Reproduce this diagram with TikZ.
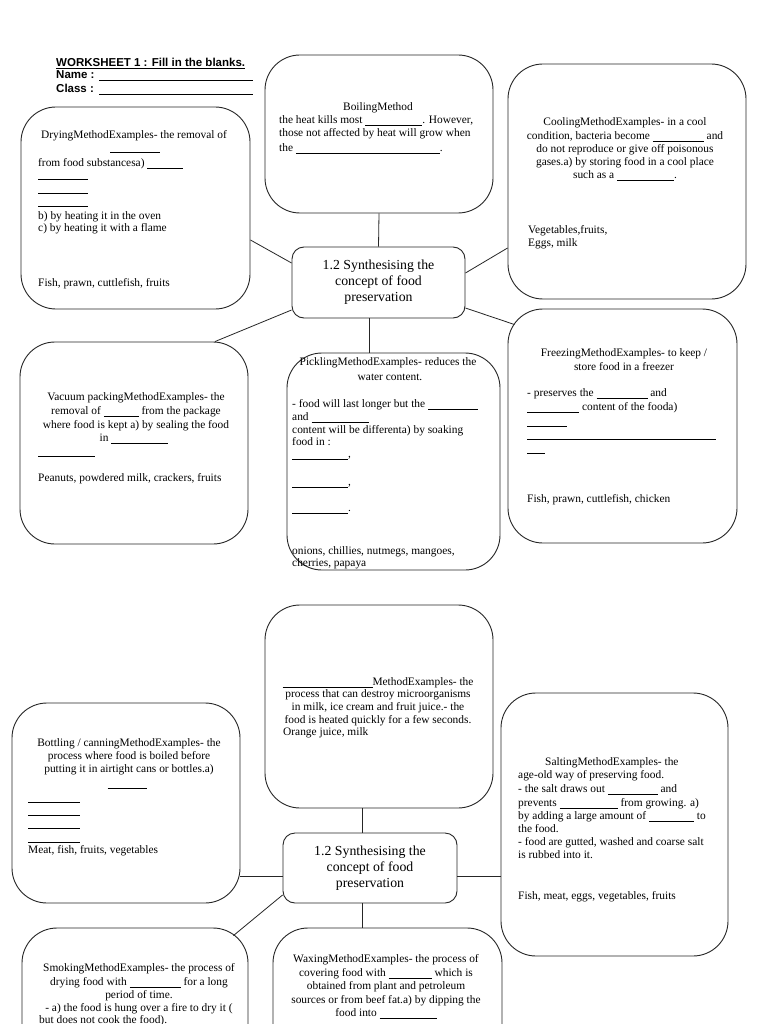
\documentclass[tikz,border=0pt]{standalone}
\usepackage{fontspec}
\setmainfont{Liberation Serif}
\newfontfamily\hdrfont{Liberation Sans}
\usetikzlibrary{calc}
\newcommand\Blank[1]{\rule[-1.6pt]{#1pt}{0.5pt}}
\newcommand\TL[4]{\node[txt,anchor=base west] (#1) at (#2,#3) {#4};}
\newcommand\TC[4]{\node[txt,anchor=base] (#1) at (#2,#3) {#4};}
\begin{document}
\begin{tikzpicture}[x=1pt,y=-1pt,
  box/.style={draw=black!85, line width=0.9pt, rounded corners=35pt, inner sep=0pt},
  cbox/.style={draw=black!85, line width=0.9pt, rounded corners=12pt, inner sep=0pt, align=center, font=\fontsize{13.8}{16}\selectfont},
  link/.style={draw=black!85, line width=0.8pt},
  txt/.style={inner sep=0pt, font=\fontsize{11.4}{12.65}\selectfont},
  hd/.style={inner sep=0pt, font=\hdrfont\bfseries\fontsize{11.5}{13}\selectfont}]
\useasboundingbox (0,0) rectangle (768,1024);
\fill[white] (0,0) rectangle (768,1024);
\clip (0,0) rectangle (768,1024);

% header
\node[hd, anchor=base west] (ws) at (56,66.6) {\underline{WORKSHEET 1 : Fill in the blanks.}};
\node[hd, anchor=base west] (nm) at (56,78.6) {\makebox[43pt][l]{Name :}\rule[-2.4pt]{154pt}{0.6pt}};
\node[hd, anchor=base west] (cl) at (56,92.6) {\makebox[43pt][l]{Class :}\rule[-2.4pt]{154pt}{0.6pt}};

% ---------- page 1 boxes
\node[box, minimum width=229pt, minimum height=202pt] (drying) at (135.5,208) {};
\node[box, minimum width=228pt, minimum height=158pt] (boiling) at (379,134) {};
\node[box, minimum width=238pt, minimum height=235pt] (cooling) at (627,181.5) {};
\node[box, minimum width=228pt, minimum height=202pt] (vacuum) at (134,443) {};
\node[box, minimum width=213pt, minimum height=217pt] (pickling) at (393.5,461.5) {};
\node[box, minimum width=229pt, minimum height=234pt] (freezing) at (622.5,426) {};
\node[cbox, minimum width=173pt, minimum height=71pt] (c1) at (378.5,282.5) {1.2 Synthesising the\\concept of food\\preservation};

\draw[link] (boiling.south) -- (c1.north);
\draw[link] ($(drying.east)+(0,32)$) -- ($(c1.west)+(0,-19.5)$);
\draw[link] ($(c1.east)+(0,-9.5)$) -- ($(cooling.west)+(0,66.5)$);
\draw[link] ($(c1.west)+(0,27.5)$) -- ($(vacuum.north)+(81,0)$);
\draw[link] ($(c1.south)+(-9.5,0)$) -- ($(pickling.north)+(-24.5,0)$);
\draw[link] ($(c1.east)+(0,25.5)$) -- ($(freezing.north west)+(7,16)$);

% drying text
\TC{d1}{134}{138.5}{DryingMethodExamples- the removal of}
\TC{d2}{135}{151.4}{\Blank{50}}
\TL{d3}{38}{166.5}{from food substancesa) \Blank{36}}
\TL{d4}{38}{178.4}{\Blank{50}}
\TL{d5}{38}{192.4}{\Blank{50}}
\TL{d6}{38}{205.4}{\Blank{50}}
\TL{d7}{38}{219.5}{b) by heating it in the oven}
\TL{d8}{38}{231.5}{c) by heating it with a flame}
\TL{d9}{38}{286.5}{Fish, prawn, cuttlefish, fruits}

% boiling text
\TC{b1}{378}{110.5}{BoilingMethod}
\TL{b2}{279}{123.5}{the heat kills most \Blank{57}. However,}
\TL{b3}{279}{137}{those not affected by heat will grow when}
\TL{b4}{279}{151.5}{the \Blank{144}.}

% cooling text
\TC{co1}{625}{125.5}{CoolingMethodExamples- in a cool}
\TC{co2}{625}{139.5}{condition, bacteria become \Blank{51} and}
\TC{co3}{625}{152.5}{do not reproduce or give off poisonous}
\TC{co4}{625}{165.5}{gases.a) by storing food in a cool place}
\TC{co5}{625}{178.5}{such as a \Blank{57}.}
\TL{co6}{528}{233.5}{Vegetables,fruits,}
\TL{co7}{528}{246.5}{Eggs, milk}

% vacuum text
\TC{v1}{136}{400.5}{Vacuum packingMethodExamples- the}
\TC{v2}{136}{414.5}{removal of \Blank{35} from the package}
\TC{v3}{136}{428.5}{where food is kept a) by sealing the food}
\TC{v4}{134}{441.5}{in \Blank{57}}
\TL{v5}{38}{454.4}{\Blank{57}}
\TL{v6}{38}{481.5}{Peanuts, powdered milk, crackers, fruits}

% pickling text
\TC{p1}{388}{365.5}{PicklingMethodExamples- reduces the}
\TC{p2}{390}{380.5}{water content.}
\TL{p3}{292}{407.5}{- food will last longer but the \Blank{50}}
\TL{p4}{292}{420.5}{and \Blank{57}}
\TL{p5}{292}{433.5}{content will be differenta) by soaking}
\TL{p6}{292}{445.5}{food in :}
\TL{p7}{292}{457.4}{\Blank{56},}
\TL{p8}{292}{485.4}{\Blank{56},}
\TL{p9}{292}{511.4}{\Blank{56}.}
\TL{p10}{292}{554.5}{onions, chillies, nutmegs, mangoes,}
\TL{p11}{292}{566.5}{cherries, papaya}

% freezing text
\TC{f1}{624}{356.5}{FreezingMethodExamples- to keep /}
\TC{f2}{624}{370.5}{store food in a freezer}
\TL{f3}{527}{396.5}{- preserves the \Blank{51} and}
\TL{f4}{527}{410.5}{\Blank{52} content of the fooda)}
\TL{f5}{527}{424.4}{\Blank{40}}
\TL{f6}{527}{437.4}{\Blank{189}}
\TL{f7}{527}{451.4}{\Blank{18}}
\TL{f8}{527}{502.5}{Fish, prawn, cuttlefish, chicken}

% ---------- page 2 boxes
\node[box, minimum width=228pt, minimum height=203pt] (pasteur) at (379,706.5) {};
\node[box, minimum width=228pt, minimum height=200pt] (bottling) at (126,803) {};
\node[box, minimum width=227pt, minimum height=263pt] (salting) at (614.5,824.5) {};
\node[box, minimum width=226pt, minimum height=202pt] (smoking) at (135,1029) {};
\node[box, minimum width=229pt, minimum height=202pt] (waxing) at (387.5,1029) {};
\node[cbox, minimum width=174pt, minimum height=70pt] (c2) at (370,868) {1.2 Synthesising the\\concept of food\\preservation};

\draw[link] ($(pasteur.south)+(-17,0)$) -- ($(c2.north)+(-8,0)$);
\draw[link] ($(bottling.east)+(0,73)$) -- ($(c2.west)+(0,8)$);
\draw[link] ($(c2.east)+(0,8)$) -- ($(salting.west)+(0,51.5)$);
\draw[link] ($(c2.west)+(0,27)$) -- ($(smoking.north east)+(-15,8)$);
\draw[link] ($(c2.south)+(-8,0)$) -- ($(waxing.north)+(-25.5,0)$);

% pasteurisation text
\TC{ps1}{378}{685.5}{\Blank{90}MethodExamples- the}
\TC{ps2}{378}{697.5}{process that can destroy microorganisms}
\TC{ps3}{378}{710.5}{in milk, ice cream and fruit juice.- the}
\TC{ps4}{378}{723.5}{food is heated quickly for a few seconds.}
\TL{ps5}{283}{735.5}{Orange juice, milk}

% bottling text
\TC{bt1}{129}{746.5}{Bottling / canningMethodExamples- the}
\TC{bt2}{129}{759.5}{process where food is boiled before}
\TC{bt3}{129}{772.5}{putting it in airtight cans or bottles.a)}
\TC{bt4}{127}{786.4}{\Blank{39}}
\TL{bt5}{28}{800.4}{\Blank{52}}
\TL{bt6}{28}{813.4}{\Blank{52}}
\TL{bt7}{28}{826.4}{\Blank{52}}
\TL{bt8}{28}{840.4}{\Blank{52}}
\TL{bt9}{28}{853.5}{Meat, fish, fruits, vegetables}

% salting text
\TL{s1}{545}{765.5}{SaltingMethodExamples- the}
\TL{s2}{518}{778.5}{age-old way of preserving food.}
\TL{s3}{518}{792.5}{- the salt draws out \Blank{50} and}
\TL{s4}{518}{806.5}{prevents \Blank{58} from growing. a)}
\TL{s5}{518}{819.5}{by adding a large amount of \Blank{45} to}
\TL{s6}{518}{832.5}{the food.}
\TL{s7}{518}{845.5}{- food are gutted, washed and coarse salt}
\TL{s8}{518}{858.5}{is rubbed into it.}
\TL{s9}{518}{899.5}{Fish, meat, eggs, vegetables, fruits}

% smoking text
\TC{sm1}{139}{971.5}{SmokingMethodExamples- the process of}
\TC{sm2}{139}{985.5}{drying food with \Blank{51} for a long}
\TC{sm3}{139}{998.5}{period of time.}
\TC{sm4}{139}{1011.5}{- a) the food is hung over a fire to dry it (}
\TL{sm5}{39}{1023.5}{but does not cook the food).}

% waxing text
\TC{w1}{386}{962.5}{WaxingMethodExamples- the process of}
\TC{w2}{386}{976.5}{covering food with \Blank{43} which is}
\TC{w3}{386}{989.5}{obtained from plant and petroleum}
\TC{w4}{386}{1003.5}{sources or from beef fat.a) by dipping the}
\TC{w5}{386}{1016.5}{food into \Blank{57}}
\end{tikzpicture}
\end{document}
